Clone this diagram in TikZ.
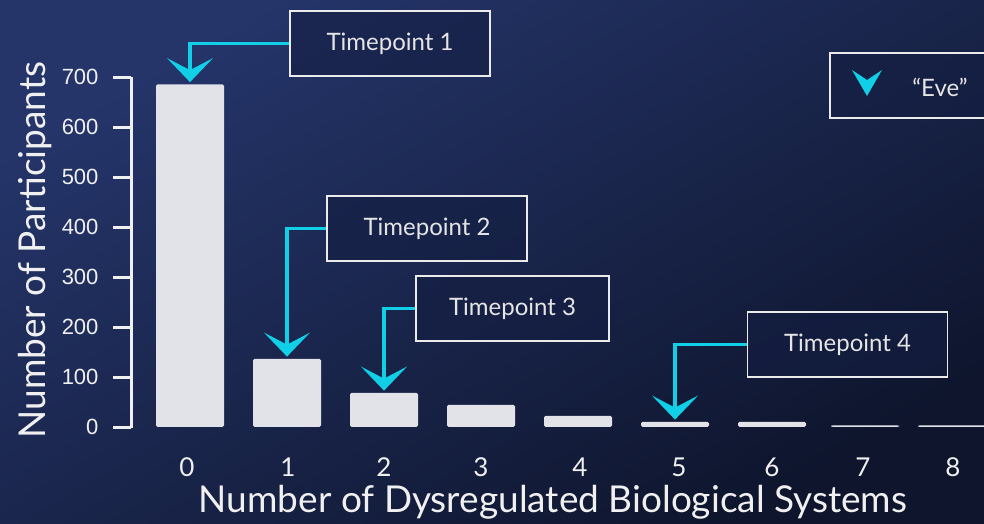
\documentclass[tikz,border=0pt]{standalone}
\usepackage{fontspec}
\setmainfont{Lato}
\newfontfamily\arialfont{Liberation Sans}
\usepackage{tikz}
\usetikzlibrary{arrows.meta,positioning}
\definecolor{bgtop}{HTML}{25356A}
\definecolor{bgbot}{HTML}{0E152D}
\definecolor{evecyan}{HTML}{10CFE6}
\definecolor{barwhite}{HTML}{E1E3E9}
\definecolor{boxfill}{HTML}{141E42}
\tikzstyle{pointer} = [line width=3.5pt, evecyan,%
	-{Stealth[length=24pt,width=46pt,inset=12pt]},%
	shorten >=2pt]

\begin{document}
\begin{tikzpicture}[x=1pt,y=-1pt]
    \tikzstyle{bar}=[rectangle,fill=barwhite,rounded corners=1.5pt,inner sep=0pt,%
      minimum width=68pt,anchor=south]
    \tikzstyle{tpbox}=[rectangle,draw=white!92!black,line width=1.6pt,fill=boxfill,%
      fill opacity=0.6,text opacity=1,text=white!90!black,minimum width=200pt,%
      minimum height=65pt,font=\fontsize{24}{28}\selectfont]
    \tikzstyle{ticklab}=[anchor=east,text=white!94!black,font=\arialfont\fontsize{22}{24}\selectfont]
    \tikzstyle{catlab}=[text=white!94!black,font=\fontsize{26}{28}\selectfont]
    \tikzstyle{title}=[text=white!94!black,font=\fontsize{37}{40}\selectfont]
    % background
    \useasboundingbox (0,0) rectangle (984,523);
    \shade[top color=bgtop,bottom color=bgbot,shading angle=30] (0,0) rectangle (984,523);
    % axis
    \draw[white!94!black,line width=3pt] (131,77) -- (131,428);
    \foreach \v in {0,100,...,700}{
      \draw[white!94!black,line width=3pt] (113,427-\v*0.5) -- (131,427-\v*0.5);
      \node[ticklab] at (102,427-\v*0.5) {\v};
    }
    \node[title,rotate=90] (ytitle) at (35,250) {Number of Participants};
    % bars
    \foreach \x/\h/\n/\lx in {190/685/0/187,287/136/1/288,384/68/2/384,481/44/3/481,578/22/4/580,675/10/5/679,772/10/6/772,865/3/7/863,952/3/8/953}{
      \node[bar,minimum height=\h*0.5pt] (b\n) at (\x,427) {};
      \node[catlab] (lb\n) at (\lx,467) {\n};
    }
    \node[title] (xtitle) at (553,502) {Number of Dysregulated Biological Systems};
    % timepoint boxes
    \node[tpbox] (tp1) at (390,43.5) {Timepoint 1};
    \node[tpbox] (tp2) at (427,228.5) {Timepoint 2};
    \node[tpbox,minimum width=193pt] (tp3) at (512.5,308.5) {Timepoint 3};
    \node[tpbox] (tp4) at (847.5,344.5) {Timepoint 4};
    \draw[pointer] (tp1.west) -| (b0.north);
    \draw[pointer] (tp2.west) -| (b1.north);
    \draw[pointer] (tp3.west) -| (b2.north);
    \draw[pointer] (tp4.west) -| (b5.north);
    % legend
    \node[tpbox,minimum width=170pt,anchor=west] (legend) at (829,85.5) {};
    \coordinate (evetip) at (867,96);
    \fill[evecyan] (evetip) -- ++(-15,-26) -- ++(15,10) -- ++(15,-10) -- cycle;
    \node[text=white!90!black,font=\fontsize{24}{28}\selectfont] (eve) at (940,87) {``Eve''};
\end{tikzpicture}
\end{document}
